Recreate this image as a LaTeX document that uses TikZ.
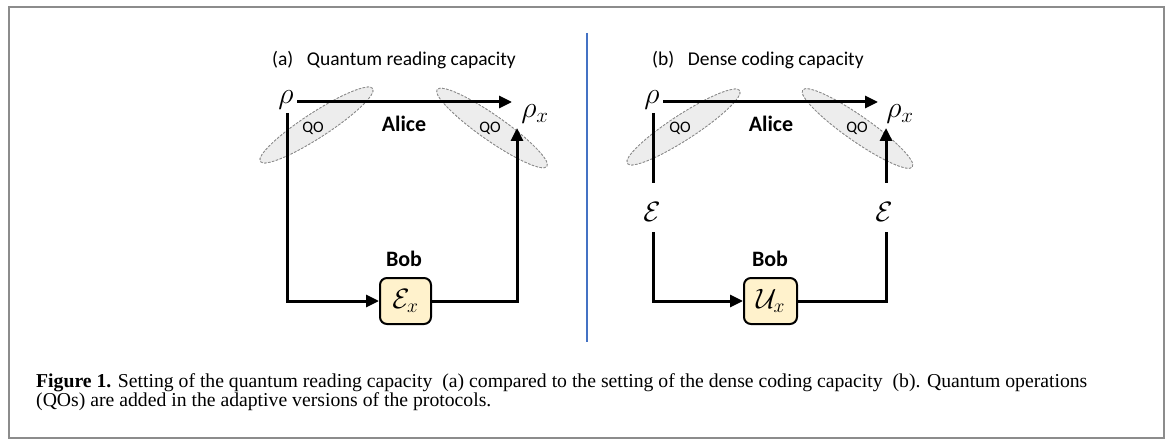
\RequirePackage{fix-cm}
\documentclass[tikz,border=0pt]{standalone}
\usepackage{fontspec}
\newfontfamily\calibri{Carlito}
\newfontfamily\capserif{Liberation Serif}
\usetikzlibrary{arrows.meta}
\definecolor{boxfill}{HTML}{FFF2CC}
\definecolor{qofill}{HTML}{EDEDED}
\definecolor{qoline}{HTML}{8A8A8A}
\definecolor{framegray}{HTML}{8C8C8C}
\definecolor{divider}{HTML}{4472C4}
\tikzset{
  flow/.style={line width=3pt, -{Triangle[length=13pt,width=12pt]}},
  wire/.style={line width=3pt},
  qo/.style={fill=qofill, draw=qoline, dash pattern=on 2.5pt off 1.5pt, line width=0.8pt},
  qolabel/.style={font=\calibri\fontsize{16}{18}\selectfont},
  party/.style={font=\calibri\bfseries\fontsize{22}{26}\selectfont},
  title/.style={anchor=base west, inner sep=0pt, font=\calibri\fontsize{19.5}{24}\selectfont},
  state/.style={inner sep=0pt, font=\fontsize{30}{36}\selectfont},
  chan/.style={inner sep=0pt, font=\fontsize{28}{32}\selectfont},
  opbox/.style={draw, line width=2pt, fill=boxfill, rounded corners=7pt,
    minimum width=51pt, minimum height=46pt, inner sep=0pt, font=\fontsize{28}{32}\selectfont},
  captext/.style={anchor=base west, inner sep=0pt, font=\capserif\fontsize{19.7}{22}\selectfont}
}
\begin{document}
\begin{tikzpicture}[x=1pt, y=-1pt]
\useasboundingbox (0,0) rectangle (1168,441);
% outer frame and divider
\draw[framegray, line width=2pt] (9,7) rectangle (1164,438);
\draw[divider, line width=2pt] (587,33) -- (587,342);

% ---------- (a) quantum reading ----------
\node[title] (ta) at (272,66) {(a)\hspace{0.7em}Quantum reading capacity};
\fill[qo, rotate around={33:(316.5,125)}] (316.5,125) ellipse (67pt and 12.5pt);
\fill[qo, rotate around={-35:(492,128)}] (492,128) ellipse (67pt and 12.5pt);
\draw[qo, rotate around={33:(316.5,125)}] (316.5,125) ellipse (67pt and 12.5pt);
\draw[qo, rotate around={-35:(492,128)}] (492,128) ellipse (67pt and 12.5pt);
\node[qolabel] (qa1) at (313,128) {QO};
\node[qolabel] (qa2) at (490,128) {QO};
\node[party] (aliceA) at (404,124) {Alice};
\node[party] (bobA) at (404,259) {Bob};

\node[state] (rhoA) at (286,100) {$\rho$};
\node[state] (rhoxA) at (535,114) {$\rho_x$};
\node[opbox] (EA) at (405.5,301) {$\mathcal{E}_x$};

\coordinate (aTopS) at (297,102);
\coordinate (aTopE) at (512,102);
\coordinate (aDown) at (287,113);
\coordinate (aUp) at (517,128);
\draw[flow] (aTopS) -- (aTopE);
\draw[flow, line join=miter] (aDown) |- (EA.west);
\draw[flow, line join=miter] (EA.east) -| (aUp);

% ---------- (b) dense coding ----------
\node[title] (tb) at (652,66) {(b)\hspace{0.7em}Dense coding capacity};
\fill[qo, rotate around={33:(683.5,127)}] (683.5,127) ellipse (67pt and 12.5pt);
\fill[qo, rotate around={-35:(857.5,128.5)}] (857.5,128.5) ellipse (67pt and 12.5pt);
\draw[qo, rotate around={33:(683.5,127)}] (683.5,127) ellipse (67pt and 12.5pt);
\draw[qo, rotate around={-35:(857.5,128.5)}] (857.5,128.5) ellipse (67pt and 12.5pt);
\node[qolabel] (qb1) at (680,128) {QO};
\node[qolabel] (qb2) at (857,128) {QO};
\node[party] (aliceB) at (771,124) {Alice};
\node[party] (bobB) at (770,259) {Bob};

\node[state] (rhoB) at (652,100) {$\rho$};
\node[state] (rhoxB) at (900,114) {$\rho_x$};
\node[opbox, minimum width=53pt] (UB) at (770.5,301) {$\mathcal{U}_x$};
\node[chan] (epsL) at (652,212) {$\mathcal{E}$};
\node[chan] (epsR) at (884,212) {$\mathcal{E}$};

\coordinate (bTopS) at (663,102);
\coordinate (bTopE) at (878,102);
\coordinate (bL1) at (653,113);
\coordinate (bL2) at (653,183);
\coordinate (bL3) at (653,232);
\coordinate (bR3) at (886,232);
\coordinate (bR2) at (886,183);
\coordinate (bR1) at (886,128);
\draw[flow] (bTopS) -- (bTopE);
\draw[wire] (bL1) -- (bL2);
\draw[flow, line join=miter] (bL3) |- (UB.west);
\draw[wire, line join=miter] (UB.east) -| (bR3);
\draw[flow] (bR2) -- (bR1);

% ---------- caption ----------
\node[captext] (cap1) at (36,387) {\textbf{Figure 1.} Setting of the quantum reading capacity\ \ (a) compared to the setting of the dense coding capacity\ \ (b). Quantum operations};
\node[captext] (cap2) at (36,406) {(QOs) are added in the adaptive versions of the protocols.};
\end{tikzpicture}
\end{document}
